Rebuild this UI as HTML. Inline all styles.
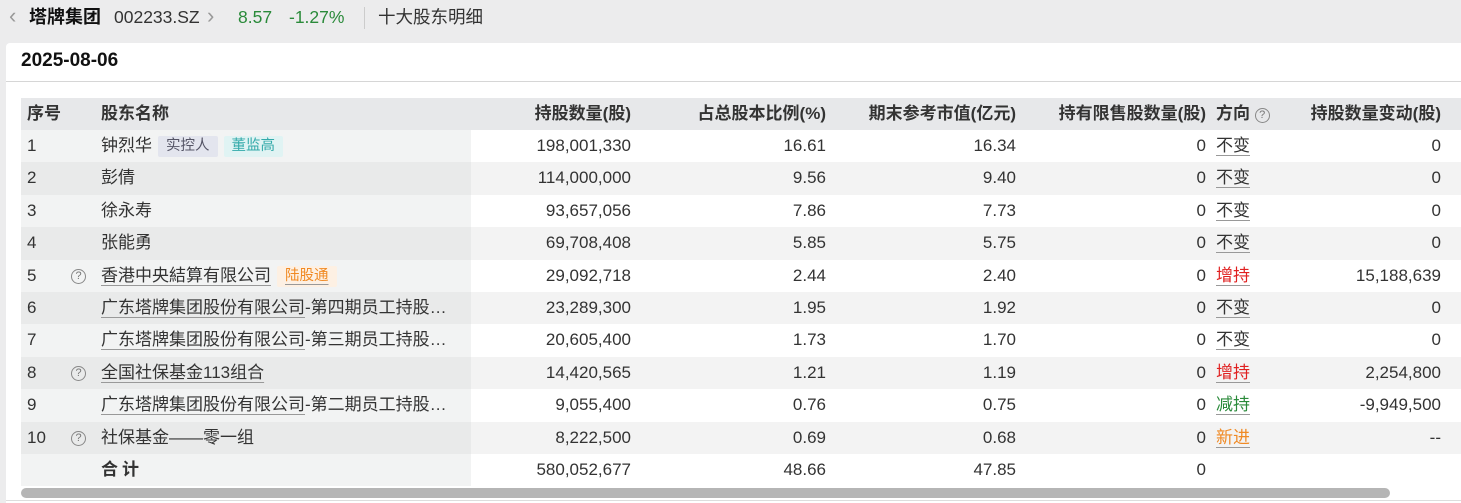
<!DOCTYPE html>
<html><head><meta charset="utf-8"><style>
*{margin:0;padding:0;box-sizing:border-box}
body{width:1461px;height:503px;overflow:hidden;background:#ececed;font-family:"Liberation Sans","Noto Sans CJK SC",sans-serif;color:#333;position:relative}
.top{position:absolute;left:0;top:0;height:36px;width:1461px;font-size:17.5px;line-height:34px}
.top span{position:absolute;top:0;white-space:nowrap}
.card{position:absolute;left:6px;top:43px;width:1460px;height:460px;background:#fff;border-radius:4px 0 0 0}
.date{position:absolute;left:15px;top:7px;font-size:19px;font-weight:bold;color:#111}
.sep{position:absolute;left:0;top:38px;width:1460px;height:1px;background:#d6d6d6}
.bot{position:absolute;left:0;top:457px;width:1460px;height:1px;background:#ddd}
.row{position:absolute;left:21px;width:1440px;height:32.4px;font-size:17px;line-height:32px}
.row > span{position:absolute;top:0;white-space:nowrap}
.fz{position:absolute;left:0;top:0;width:450px;height:100%}
.r{text-align:right}
.q{display:inline-block;width:15px;height:15px;border:1px solid #888;border-radius:50%;font-size:11px;line-height:13px;text-align:center;color:#777}
.row > .q{top:9px}
.u{text-decoration:underline;text-decoration-color:#999;text-underline-offset:4px}
.tag{font-size:14.5px;padding:0 8px;line-height:21px;margin-left:6px;border-radius:2px;display:inline-block;vertical-align:1px}
.hd{font-weight:bold;background:#e7e8ea}
</style></head><body>
<div class="top">
<span style="left:9px;color:#999;font-size:22px;top:-1px">&lsaquo;</span>
<span style="left:29px;font-weight:bold;font-size:18px;color:#111">塔牌集团</span>
<span style="left:114px">002233.SZ</span>
<span style="left:207px;color:#999;font-size:22px;top:-1px">&rsaquo;</span>
<span style="left:238px;color:#2a8a3a">8.57</span>
<span style="left:289px;color:#2a8a3a">-1.27%</span>
<span style="left:364px;top:7px;width:1px;height:22px;background:#ccc"></span>
<span style="left:378px">十大股东明细</span>
</div>
<div class="card"><div class="date">2025-08-06</div><div class="sep"></div><div class="bot"></div></div>

<div class="row hd" style="top:98px"><span style="left:6px">序号</span><span style="left:80px">股东名称</span><span class="r" style="right:830px">持股数量(股)</span><span class="r" style="right:635px">占总股本比例(%)</span><span class="r" style="right:445px">期末参考市值(亿元)</span><span class="r" style="right:255px">持有限售股数量(股)</span><span style="left:1195px">方向 <span class="q" style="font-weight:normal;vertical-align:1px">?</span></span><span class="r" style="right:20px">持股数量变动(股)</span></div>

<div class="row" style="top:130px;background:#fff"><div class="fz" style="background:#f2f3f3"></div><span style="left:6px">1</span><span style="left:80px">钟烈华<span class="tag" style="background:#e3e5ee;color:#556">实控人</span><span class="tag" style="background:#e0f3f3;color:#3aa">董监高</span></span><span class="r" style="right:830px">198,001,330</span><span class="r" style="right:635px">16.61</span><span class="r" style="right:445px">16.34</span><span class="r" style="right:255px">0</span><span class="u" style="left:1195px">不变</span><span class="r" style="right:20px">0</span></div>
<div class="row" style="top:162.4px;background:#f3f3f3"><div class="fz" style="background:#e9eaea"></div><span style="left:6px">2</span><span style="left:80px">彭倩</span><span class="r" style="right:830px">114,000,000</span><span class="r" style="right:635px">9.56</span><span class="r" style="right:445px">9.40</span><span class="r" style="right:255px">0</span><span class="u" style="left:1195px">不变</span><span class="r" style="right:20px">0</span></div>
<div class="row" style="top:194.8px;background:#fff"><div class="fz" style="background:#f2f3f3"></div><span style="left:6px">3</span><span style="left:80px">徐永寿</span><span class="r" style="right:830px">93,657,056</span><span class="r" style="right:635px">7.86</span><span class="r" style="right:445px">7.73</span><span class="r" style="right:255px">0</span><span class="u" style="left:1195px">不变</span><span class="r" style="right:20px">0</span></div>
<div class="row" style="top:227.2px;background:#f3f3f3"><div class="fz" style="background:#e9eaea"></div><span style="left:6px">4</span><span style="left:80px">张能勇</span><span class="r" style="right:830px">69,708,408</span><span class="r" style="right:635px">5.85</span><span class="r" style="right:445px">5.75</span><span class="r" style="right:255px">0</span><span class="u" style="left:1195px">不变</span><span class="r" style="right:20px">0</span></div>
<div class="row" style="top:259.6px;background:#fff"><div class="fz" style="background:#f2f3f3"></div><span style="left:6px">5</span><span class="q" style="left:50px">?</span><span style="left:80px"><span class="u">香港中央結算有限公司</span><span class="tag u" style="background:#fdf0e3;color:#f08a24">陆股通</span></span><span class="r" style="right:830px">29,092,718</span><span class="r" style="right:635px">2.44</span><span class="r" style="right:445px">2.40</span><span class="r" style="right:255px">0</span><span class="u" style="left:1195px;color:#e02020">增持</span><span class="r" style="right:20px">15,188,639</span></div>
<div class="row" style="top:292px;background:#f3f3f3"><div class="fz" style="background:#e9eaea"></div><span style="left:6px">6</span><span style="left:80px"><span class="u">广东塔牌集团股份有限公司</span>-第四期员工持股…</span><span class="r" style="right:830px">23,289,300</span><span class="r" style="right:635px">1.95</span><span class="r" style="right:445px">1.92</span><span class="r" style="right:255px">0</span><span class="u" style="left:1195px">不变</span><span class="r" style="right:20px">0</span></div>
<div class="row" style="top:324.4px;background:#fff"><div class="fz" style="background:#f2f3f3"></div><span style="left:6px">7</span><span style="left:80px"><span class="u">广东塔牌集团股份有限公司</span>-第三期员工持股…</span><span class="r" style="right:830px">20,605,400</span><span class="r" style="right:635px">1.73</span><span class="r" style="right:445px">1.70</span><span class="r" style="right:255px">0</span><span class="u" style="left:1195px">不变</span><span class="r" style="right:20px">0</span></div>
<div class="row" style="top:356.8px;background:#f3f3f3"><div class="fz" style="background:#e9eaea"></div><span style="left:6px">8</span><span class="q" style="left:50px">?</span><span style="left:80px" class="u">全国社保基金113组合</span><span class="r" style="right:830px">14,420,565</span><span class="r" style="right:635px">1.21</span><span class="r" style="right:445px">1.19</span><span class="r" style="right:255px">0</span><span class="u" style="left:1195px;color:#e02020">增持</span><span class="r" style="right:20px">2,254,800</span></div>
<div class="row" style="top:389.2px;background:#fff"><div class="fz" style="background:#f2f3f3"></div><span style="left:6px">9</span><span style="left:80px"><span class="u">广东塔牌集团股份有限公司</span>-第二期员工持股…</span><span class="r" style="right:830px">9,055,400</span><span class="r" style="right:635px">0.76</span><span class="r" style="right:445px">0.75</span><span class="r" style="right:255px">0</span><span class="u" style="left:1195px;color:#2a8a3a">减持</span><span class="r" style="right:20px">-9,949,500</span></div>
<div class="row" style="top:421.6px;background:#f3f3f3"><div class="fz" style="background:#e9eaea"></div><span style="left:6px">10</span><span class="q" style="left:50px">?</span><span style="left:80px">社保基金——零一组</span><span class="r" style="right:830px">8,222,500</span><span class="r" style="right:635px">0.69</span><span class="r" style="right:445px">0.68</span><span class="r" style="right:255px">0</span><span class="u" style="left:1195px;color:#f08a24">新进</span><span class="r" style="right:20px">--</span></div>
<div class="row" style="top:454px;background:#fff"><div class="fz" style="background:#f2f3f3"></div><span style="left:80px;font-weight:bold;letter-spacing:4px">合计</span><span class="r" style="right:830px">580,052,677</span><span class="r" style="right:635px">48.66</span><span class="r" style="right:445px">47.85</span><span class="r" style="right:255px">0</span></div>
<div style="position:absolute;left:21px;top:488px;width:1369px;height:10px;background:#b5b5b5;border-radius:5px"></div>
</body></html>
